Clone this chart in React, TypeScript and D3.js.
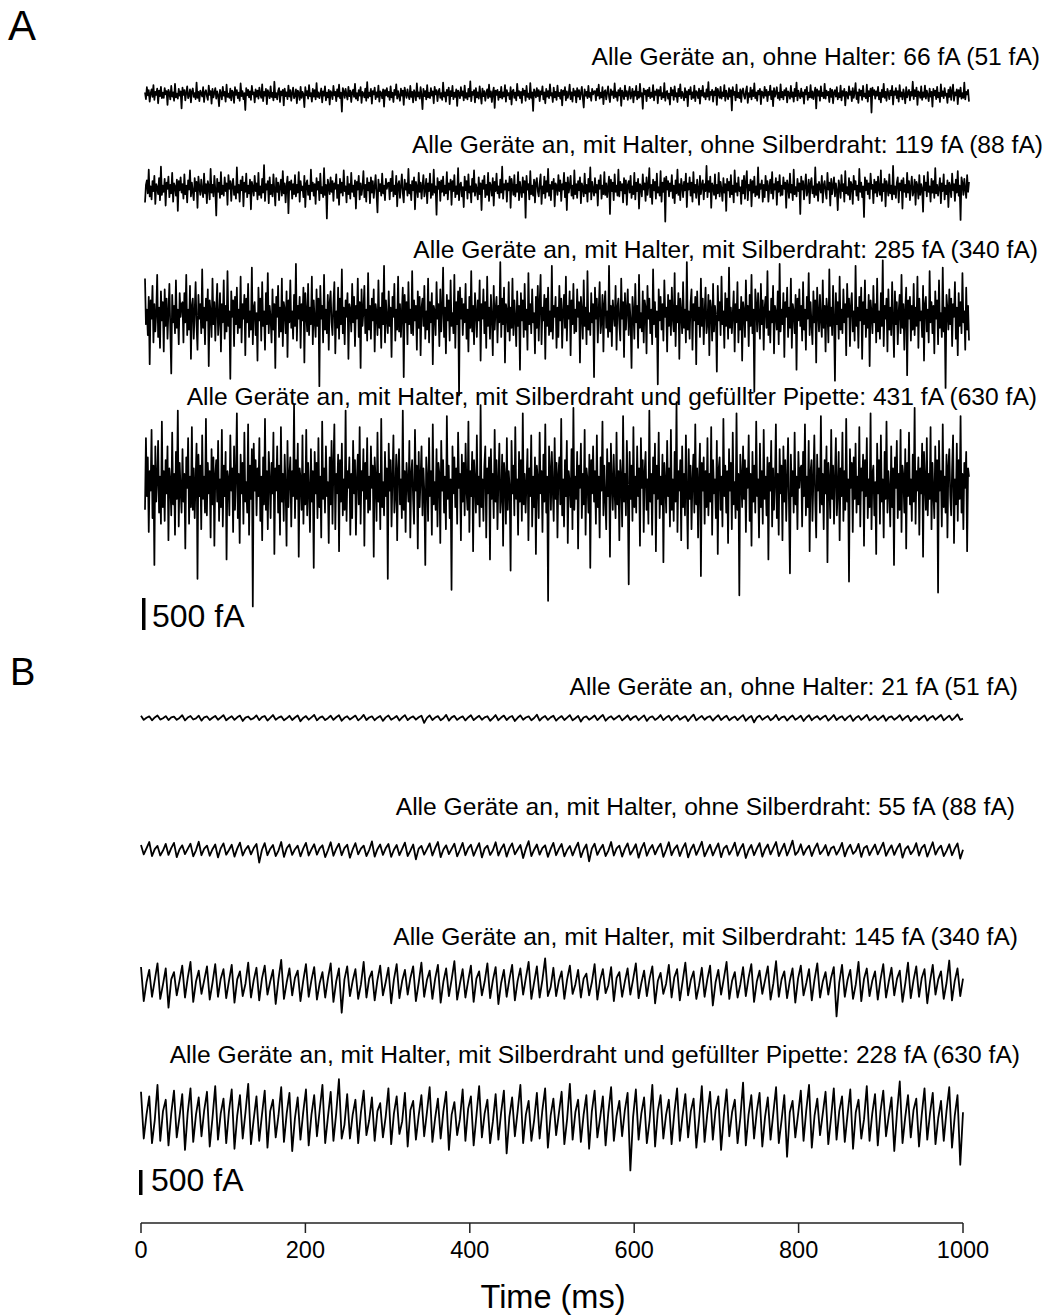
import React from "react";
import * as d3 from "d3";

// Panel A: unfiltered recordings, panel B: the same set after filtering
const labelsA = [
  "Alle Geräte an, ohne Halter: 66 fA (51 fA)",
  "Alle Geräte an, mit Halter, ohne Silberdraht: 119 fA (88 fA)",
  "Alle Geräte an, mit Halter, mit Silberdraht: 285 fA (340 fA)",
  "Alle Geräte an, mit Halter, mit Silberdraht und gefüllter Pipette: 431 fA (630 fA)",
];
const labelsB = [
  "Alle Geräte an, ohne Halter: 21 fA (51 fA)",
  "Alle Geräte an, mit Halter, ohne Silberdraht: 55 fA (88 fA)",
  "Alle Geräte an, mit Halter, mit Silberdraht: 145 fA (340 fA)",
  "Alle Geräte an, mit Halter, mit Silberdraht und gefüllter Pipette: 228 fA (630 fA)",
];
// rms noise of each trace (fA)
const rmsA = [66, 119, 285, 431];
const rmsB = [21, 55, 145, 228];
const timeTicks = [0, 200, 400, 600, 800, 1000];
const scaleBarFA = 500;

// wideband noise trace, in units of rms
const noiseA = [
  0.4, -1.2, 1.6, -0.3, 0.9, -1.8, 0.2, 1.1, -0.7, 2.1, -1.4, 0.5, -0.2, 1.3, -2.2, 0.8, -0.5, 1.7, -1.0, 0.3,
  -0.9, 1.4, -0.1, 0.7, -2.6, 1.0, 0.2, -1.3, 1.9, -0.6, 0.4, -1.6, 2.4, -0.8, 0.1, -1.1, 1.2, -0.4, 0.6, -3.4,
  1.5, -0.2, 0.9, -1.5, 0.3, 1.8, -1.0, -0.3, 1.1, -2.0, 0.6, 1.3, -0.7, 0.2, -1.2, 2.7, -0.9, 0.5, -1.7, 0.8,
  0.1, -0.6, 1.6, -1.9, 0.4, 0.9, -0.5, -1.4, 2.0, -0.2, 0.7, -2.3, 1.2, -0.8, 0.3, 1.4, -1.1, 0.6, -0.3, -2.9,
  1.0, 0.2, -1.3, 1.7, -0.4, 0.5, -1.8, 2.2, -0.7, 0.1, -0.9, 1.3, -1.5, 0.8, 0.4, -2.1, 1.6, -0.2, 0.9, -1.0,
  0.3, -1.6, 2.5, -0.5, 0.7, -1.2, 0.2, -3.8, 1.4, -0.3, 1.0, -0.8, 0.6, -1.4, 1.9, -0.1, 0.4, -2.0, 1.1, -0.6,
  0.8, -1.1, 1.5, -0.2, -0.9, 2.3, -1.7, 0.5, -0.4, 1.2, -2.4, 0.9, 0.1, -1.0, 1.8, -0.7, 0.3, -1.5, 2.9, -0.8,
  0.2, -1.3, 0.7, 1.4, -1.9, 0.6, -0.3, 1.0, -2.7, 1.3, -0.5, 0.4, -1.2, 2.0, -0.6, 0.9, -1.6, 0.2, 1.5, -1.0,
  -0.4, 1.1, -2.2, 0.8, 0.3, -1.4, 1.7, -0.9, 0.5, -0.1, -3.1, 1.6, -0.3, 0.7, -1.1, 2.1, -0.5, 0.2, -1.8, 1.2,
  -0.6, 0.9, -1.3, 2.6, -0.7, 0.4, -1.0, 0.1, 1.3, -2.0, 0.6, -0.4, 1.8, -1.5, 0.3, -0.8, 1.0, -2.5, 0.7, 0.2,
  -1.2, 1.9, -0.3, 0.5, -1.7, 1.1, -0.6, 2.2, -1.0, 0.3, -4.2, 1.4, 0.6, -0.9, 1.2, -0.2, -1.3, 1.7, -0.5, 0.8,
  -1.9, 0.4, 1.0, -0.7, 2.4, -1.1, 0.2, -1.5, 0.9, -0.4, 1.6, -2.1, 0.5, 0.1, -0.8, 1.3, -1.6, 2.8, -0.9, 0.3,
  -0.5, 1.2, -2.3, 0.7, -0.1, 1.5, -1.2, 0.4, -0.7, 2.0, -1.8, 0.6, 0.2, -1.0, 1.1, -3.0, 0.9, -0.3, 1.4, -0.6,
  0.5, -1.4, 1.8, -0.8, 0.3, -1.9, 1.0, -0.2, 2.3, -1.1, 0.7, -0.5, -1.6, 1.3, -0.4, 0.8, -2.6, 1.5, 0.1, -0.9,
  1.1, -0.3, -1.2, 1.9, -0.7, 0.5, -2.0, 0.9, 0.2, -1.5, 2.5, -0.6, 0.4, -1.1, 1.6, -0.2, -3.6, 1.2, -0.5, 0.7,
  -1.3, 2.1, -0.8, 0.3, -1.0, 1.4, -0.4, 0.6, -2.2, 1.7, -0.1, 0.9, -1.7, 0.5, 1.2, -0.9, 0.2, -1.4, 2.7, -0.6,
  0.4, -1.8, 1.0, -0.3, 1.5, -2.4, 0.7, -0.5, 1.9, -1.2, 0.3, -0.7, 1.1, -2.8, 0.8, 0.1, -1.0, 1.6, -0.4, 0.6,
  -1.5, 2.0, -0.9, 0.2, -1.3, 1.2, -0.6, 3.0, -1.7, 0.5, -0.2, 0.9, -2.0, 1.4, -0.8, 0.4, -1.1, 1.8, -0.3, -2.3,
  1.3, -0.5, 0.7, -1.6, 0.2, 1.1, -1.0, 2.2, -0.7, 0.6, -1.9, 0.3, 1.5, -3.3, 0.8, -0.2, 1.0, -1.4, 0.5, -0.8,
  1.7, -1.1, 0.4, -0.6, 2.1, -1.8, 0.9, -0.3, 0.2, -1.2, 1.6, -2.5, 0.6, 1.0, -0.9, 0.3, -1.5, 2.4, -0.4, 0.7,
  -1.0, 0.5, -2.1, 1.3, -0.2, 0.8, -1.6, 1.9, -0.7, 0.1, -1.2, 2.6, -0.9, 0.4, -4.0, 1.1, 0.3, -0.8, 1.4, -0.5,
  0.9, -1.7, 0.6, -0.1, 1.8, -1.3, 0.4, -2.2, 1.2, -0.6, 0.7, -1.0, 2.3, -0.4, 0.2, -1.9, 1.5, -0.8, 0.5, -1.4,
  2.0, -0.5, 0.3, -1.1, 1.0, -2.7, 0.8, -0.2, 1.6, -1.5, 0.6, -0.9, 0.1, 2.2, -1.2, 0.4, -1.8, 1.3, -0.3, 0.7,
  -2.0, 1.4, -0.6, 0.9, -1.3, 0.2, 1.7, -0.8, -3.2, 1.1, -0.4, 0.5, -1.0, 1.9, -0.7, 0.3, -1.6, 1.2, -0.1, 0.6,
  0.7, -1.5, 1.2, -0.4, 2.2, -1.1, 0.3, -0.8, 1.6, -2.4, 0.5, 0.9, -1.3, 0.2, 1.8, -0.6, -1.9, 1.1, -0.2, 0.6,
  -1.0, 2.5, -0.7, 0.4, -1.6, 0.9, -0.3, 1.4, -2.8, 0.8, 0.1, -1.2, 2.0, -0.5, 0.7, -1.4, 0.3, 1.7, -1.1, -0.2,
  1.2, -2.0, 0.6, -0.4, 1.9, -1.3, 0.5, -0.9, 2.4, -0.6, 0.2, -3.5, 1.3, -0.1, 0.8, -1.7, 1.0, -0.5, 1.5, -1.0,
  0.3, -0.7, 2.1, -1.5, 0.6, -0.2, 1.1, -2.2, 0.9, -0.4, 1.7, -1.2, 0.2, -0.8, 2.6, -1.6, 0.4, 0.7, -1.1, 0.1,
  -2.5, 1.5, -0.3, 0.9, -1.4, 1.8, -0.6, 0.2, -1.9, 1.2, -0.5, 2.3, -1.0, 0.5, -0.2, -1.5, 1.4, -0.8, 0.6, -2.9,
  1.0, -0.1, 1.6, -1.2, 0.4, -0.9, 2.0, -1.7, 0.7, 0.3, -1.0, 1.3, -2.3, 0.8, -0.4, 1.9, -0.7, 0.2, -1.3, 1.1,
  -0.6, 2.8, -1.4, 0.5, -0.2, 1.0, -1.8, 0.6, -0.3, 1.5, -2.6, 1.2, 0.1, -0.9, 1.7, -1.1, 0.4, -0.5, 2.1, -1.6,
  0.8, -0.3, -1.2, 1.4, -0.6, 0.9, -3.9, 1.6, -0.2, 0.5, -1.5, 2.2, -0.8, 0.3, -1.0, 1.1, -1.9, 0.7, 1.3, -0.4,
  -1.1, 0.6, 1.8, -2.1, 0.2, -0.7, 1.5, -1.3, 0.9, -0.5, 2.5, -1.0, 0.4, -1.6, 0.8, -0.1, 1.2, -2.4, 0.6, 0.3,
  -0.9, 1.7, -0.4, 1.0, -1.7, 0.5, -0.2, 2.0, -1.2, 0.7, -2.9, 1.4, -0.6, 0.2, 1.6, -1.0, 0.3, -1.4, 2.3, -0.8,
  0.5, -1.3, 0.9, -0.3, 1.4, -2.0, 0.6, 0.1, -1.1, 1.9, -0.7, 0.4, -1.8, 1.2, -0.5, 2.7, -1.5, 0.8, -0.2, -1.0,
  1.3, -0.6, 0.4, -2.3, 1.0, -0.1, 1.7, -1.4, 0.3, -0.8, 2.1, -0.9, 0.6, -1.2, 0.2, 1.5, -3.4, 1.1, -0.4, 0.7,
  -1.6, 1.8, -0.5, 0.3, -1.0, 2.4, -1.1, 0.8, -0.3, 0.5, -1.9, 1.3, -0.7, 1.0, -2.2, 0.4, 0.9, -0.6, 1.6, -1.3,
  0.2, -0.8, 2.0, -1.5, 0.7, -0.4, 1.2, -2.7, 0.5, 0.2, -1.1, 1.8, -0.2, 0.6, -1.7, 1.4, -0.9, 0.3, 2.6, -1.2,
  0.4, -2.1, 1.1, -0.3, 0.8, -1.4, 1.9, -0.6, 0.1, -1.0, 2.2, -1.8, 0.7, -0.5, 1.3, -4.4, 1.5, -0.2, 0.9, -1.1,
  0.6, -0.4, 1.7, -1.3, 0.3, -2.0, 1.0, -0.7, 2.4, -0.9, 0.5, -1.6, 1.2, 0.2, -1.2, 0.8, -0.3, 1.9, -2.5, 0.6,
  -0.2, 1.4, -1.0, 0.7, -1.8, 2.1, -0.6, 0.4, -1.3, 1.1, -0.1, -2.2, 1.6, -0.8, 0.3, 1.0, -1.5, 0.5, -0.4, 2.9,
  -1.2, 0.9, -0.5, 1.5, -2.6, 0.6, 0.2, -0.9, 1.8, -1.4, 0.4, -0.7, 2.0, -1.1, 0.8, -0.2, -1.7, 1.3, -0.6, 0.5,
  -3.0, 1.2, -0.3, 0.8, -1.2, 1.7, -0.8, 0.3, -1.9, 2.3, -0.5, 0.6, -1.0, 1.4, -0.4, 0.1, -2.1, 1.0, -0.7, 1.6,
  -1.4, 0.7, 2.2, -1.6, 0.4, -0.3, 1.1, -2.4, 0.9, -0.6, 1.5, -1.1, 0.2, -0.9, 2.7, -1.3, 0.5, -0.1, 1.0, -1.8,
];

// filtered trace: ~100 hum cycles, peak / trough / shoulder per cycle
const noiseB = [
  2.1, -1.8, 0.3, 1.6, -2.2, 0.5, 2.4, -1.5, -0.2, 1.8, -2.0, 0.6, 1.3, -1.7, 0.1, 2.6, -2.3, 0.4, 1.9, -1.4, -0.3, 2.2, -2.5, 0.7, 1.5, -1.9, 0.2, 2.0, -1.6, 0.5,
  2.7, -2.1, 0.0, 1.7, -1.8, 0.6, 2.3, -2.8, 0.3, 1.4, -1.5, -0.1, 2.5, -2.0, 0.8, 1.9, -2.4, 0.2, 2.8, -1.7, 0.4, 1.6, -2.2, -0.3, 2.1, -1.9, 0.5, 2.4, -3.1, 0.1,
  1.8, -1.6, 0.6, 2.9, -2.2, 0.3, 1.5, -2.0, -0.2, 2.2, -1.8, 0.7, 2.6, -2.6, 0.2, 1.7, -1.5, 0.4, 2.3, -2.3, -0.1, 3.0, -1.9, 0.5, 1.6, -2.1, 0.3, 2.0, -2.7, 0.6,
  2.4, -1.7, 0.0, 1.9, -2.4, 0.5, 2.7, -2.0, 0.2, 1.5, -1.6, 0.7, 2.2, -4.6, 0.1, 2.5, -1.9, 0.4, 1.8, -2.2, -0.2, 2.9, -2.5, 0.6, 2.0, -1.8, 0.3, 1.6, -2.3, 0.5,
  2.6, -2.0, 0.2, 2.1, -1.7, 0.6, 1.7, -2.6, -0.1, 2.8, -2.1, 0.4, 2.3, -1.9, 0.7, 1.9, -2.8, 0.2, 2.5, -1.6, 0.5, 1.6, -2.2, 0.0, 3.1, -2.4, 0.3, 2.0, -1.8, 0.6,
  2.2, -2.5, 0.1, 1.8, -1.9, 0.4, 2.7, -2.2, -0.2, 2.0, -3.4, 0.5, 1.5, -1.7, 0.3, 2.4, -2.0, 0.7, 2.9, -2.6, 0.2, 1.7, -1.5, 0.4, 2.3, -2.3, 0.0, 2.6, -1.9, 0.6,
  1.9, -2.1, 0.3, 2.5, -2.7, 0.5, 1.6, -1.8, -0.1, 2.8, -2.0, 0.4, 2.1, -2.4, 0.6, 2.4, -1.6, 0.2, 1.8, -2.9, 0.5, 3.2, -2.2, 0.1, 2.0, -1.7, 0.7, 1.7, -2.5, 0.3,
  2.6, -1.9, 0.4, 2.2, -2.3, 0.0, 1.5, -2.0, 0.6, 2.7, -2.6, 0.2, 2.0, -4.1, 0.5, 2.3, -1.8, 0.3, 1.9, -2.2, -0.2, 2.9, -2.0, 0.6, 1.6, -2.4, 0.4, 2.4, -1.7, 0.1,
  2.1, -2.8, 0.5, 2.6, -2.1, 0.3, 1.8, -1.6, 0.7, 2.3, -2.5, 0.0, 2.8, -1.9, 0.4, 1.7, -2.2, 0.6, 2.5, -2.7, 0.2, 2.0, -1.8, 0.5, 3.0, -2.3, -0.1, 1.9, -2.0, 0.3,
  2.4, -2.6, 0.6, 1.6, -1.7, 0.2, 2.7, -2.1, 0.4, 2.2, -2.9, 0.0, 1.8, -1.9, 0.5, 2.5, -2.4, 0.3, 2.0, -1.6, 0.7, 2.9, -2.2, 0.1, 2.3, -2.0, 0.4, 3.4, -1.8, -0.6,
];

// layout
const W = 1047;
const H = 1316;
const font = "'Liberation Sans', Arial, Helvetica, sans-serif";
const centersA = [94, 188, 315, 485];
const centersB = [718, 850, 983, 1118];
const labelYA = [65, 153, 258, 405];
const labelYB = [695, 815, 945, 1063];
const labelXA = [1040, 1043, 1038, 1037];
const labelXB = [1018, 1015, 1018, 1020];
const offsetsA = [0, 220, 440, 660];
const offsetsB = [0, 60, 150, 225];
const barPxA = 32; // height of the 500 fA bar in panel A
const barPxB = 25;
const axisY = 1223;
const labelSize = 24.6;

const xA = d3.scaleLinear().domain([0, 1000]).range([145, 969]);
const xB = d3.scaleLinear().domain([0, 1000]).range([141, 963]);

type Pt = [number, number];

function tracePoints(seq: number[], rms: number, offset: number): Pt[] {
  const n = seq.length;
  const dt = d3.scaleLinear().domain([0, n - 1]).range([0, 1000]);
  return seq.map((_, i) => [dt(i), seq[(i + offset) % n] * rms]);
}

function Trace({ seq, rms, offset, x, center, barPx, width }: any) {
  // scaleBarFA fA spans barPx pixels
  const y = d3
    .scaleLinear()
    .domain([0, scaleBarFA])
    .range([center, center - barPx]);
  const line = d3
    .line<Pt>()
    .x((d) => x(d[0]))
    .y((d) => y(d[1]));
  return (
    <path
      d={line(tracePoints(seq, rms, offset)) || ""}
      fill="none"
      stroke="#000"
      strokeWidth={width}
      strokeLinejoin="round"
    />
  );
}

export default function App() {
  return (
    <svg
      width={W}
      height={H}
      viewBox={`0 0 ${W} ${H}`}
      style={{ position: "absolute", left: 0, top: 0, background: "#fff" }}
      fontFamily={font}
    >
      <rect width={W} height={H} fill="#fff" />

      {/* panel A */}
      <text x={8} y={40} fontSize={42}>A</text>
      {rmsA.map((r, i) => (
        <g key={"a" + i}>
          <Trace seq={noiseA} rms={r} offset={offsetsA[i]} x={xA} center={centersA[i]} barPx={barPxA} width={1.75} />
          <text x={labelXA[i]} y={labelYA[i]} fontSize={labelSize} textAnchor="end">{labelsA[i]}</text>
        </g>
      ))}
      <rect x={142} y={598} width={3.5} height={barPxA} fill="#000" />
      <text x={152} y={627} fontSize={32}>500 fA</text>

      {/* panel B */}
      <text x={10} y={685} fontSize={38}>B</text>
      {rmsB.map((r, i) => (
        <g key={"b" + i}>
          <Trace seq={noiseB} rms={r} offset={offsetsB[i]} x={xB} center={centersB[i]} barPx={barPxB} width={1.8} />
          <text x={labelXB[i]} y={labelYB[i]} fontSize={labelSize} textAnchor="end">{labelsB[i]}</text>
        </g>
      ))}
      <rect x={139} y={1170} width={3.5} height={barPxB} fill="#000" />
      <text x={151} y={1191} fontSize={32}>500 fA</text>

      {/* time axis */}
      <g>
        <line x1={xB(0)} x2={xB(1000)} y1={axisY} y2={axisY} stroke="#222" strokeWidth={1.5} />
        {timeTicks.map((t) => (
          <g key={t} transform={`translate(${xB(t)},${axisY})`}>
            <line y1={0} y2={10} stroke="#222" strokeWidth={1.5} />
            <text y={35} fontSize={23.5} textAnchor="middle">{t}</text>
          </g>
        ))}
        <text x={553} y={1308} fontSize={32.5} textAnchor="middle">Time (ms)</text>
      </g>
    </svg>
  );
}
